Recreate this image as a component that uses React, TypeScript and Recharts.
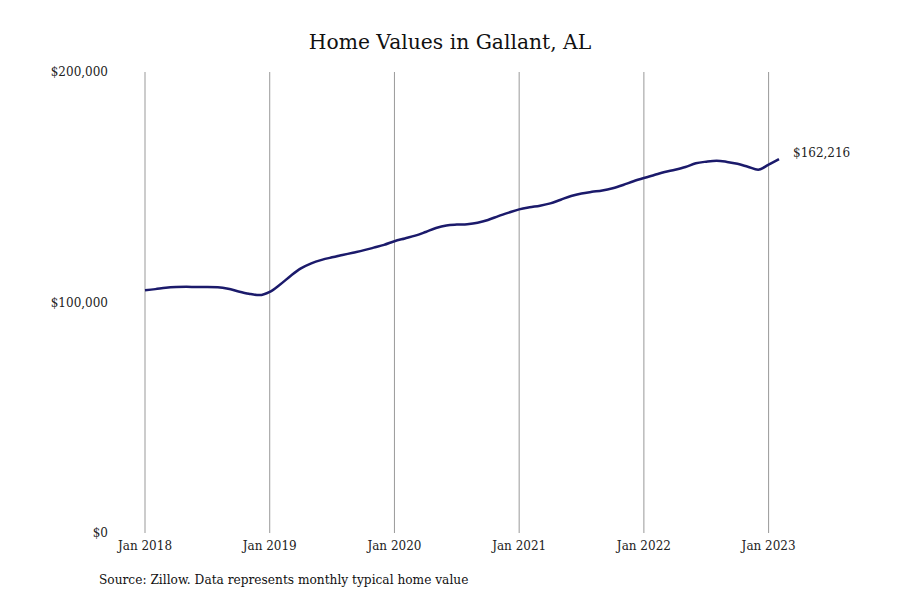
import React from 'react';
import { LineChart, Line, XAxis, YAxis, ReferenceLine } from 'recharts';

const months: string[] = [];
const startYear = 2018;
for (let i = 0; i < 62; i++) {
  const names = ['Jan','Feb','Mar','Apr','May','Jun','Jul','Aug','Sep','Oct','Nov','Dec'];
  months.push(`${names[i % 12]} ${startYear + Math.floor(i / 12)}`);
}

const homeValues: number[] = [
  105300, 105800, 106400, 106700, 106800, 106700, 106700, 106600, 106000, 104800, 103800, 103200,
  104600, 107800, 111500, 114800, 117000, 118500, 119600, 120600, 121600, 122600, 123800, 125000,
  126600, 127800, 129000, 130600, 132300, 133400, 133800, 134000, 134600, 135800, 137500, 139000,
  140400, 141300, 142000, 143000, 144600, 146200, 147300, 148000, 148600, 149600, 151000, 152600,
  154000, 155300, 156600, 157600, 158800, 160400, 161100, 161500, 161000, 160200, 158900, 157600,
  159800, 162216,
];

const xTickIndexes = [0, 12, 24, 36, 48, 60];
const xTickLabels = ['Jan 2018', 'Jan 2019', 'Jan 2020', 'Jan 2021', 'Jan 2022', 'Jan 2023'];
const yTicks = [0, 100000, 200000];
const yTickLabels = ['$0', '$100,000', '$200,000'];

const data = homeValues.map((v, i) => ({ idx: i, month: months[i], value: v }));

const FONT = '"DejaVu Serif", serif';
const lineColor = '#1b1a6b';

const EndLabel = (props: any) => {
  const { x, y, index, value } = props;
  if (index !== homeValues.length - 1) return null;
  return (
    <text x={x + 14} y={y - 6} dominantBaseline="central" fontFamily={FONT} fontSize={12} fill="#222">
      {'$' + Number(value).toLocaleString('en-US')}
    </text>
  );
};

export default function App() {
  return (
    <div style={{ position: 'absolute', left: 0, top: 0, width: 900, height: 600, background: '#fff' }}>
      <div
        style={{
          position: 'absolute',
          top: 29,
          left: 0,
          width: 900,
          textAlign: 'center',
          fontFamily: FONT,
          fontSize: 20.3,
          color: '#111',
          lineHeight: '26px',
        }}
      >
        Home Values in Gallant, AL
      </div>
      <LineChart
        width={900}
        height={600}
        data={data}
        margin={{ top: 72, right: 121, bottom: 0, left: 0 }}
      >
        <XAxis
          dataKey="idx"
          type="number"
          domain={[0, 61]}
          ticks={xTickIndexes}
          tickFormatter={(v: number) => xTickLabels[xTickIndexes.indexOf(v)]}
          axisLine={false}
          tickLine={false}
          height={67}
          tick={{ fontFamily: FONT, fontSize: 12, fill: '#222' }}
          interval={0}
        />
        <YAxis
          type="number"
          domain={[0, 200000]}
          ticks={yTicks}
          tickFormatter={(v: number) => yTickLabels[yTicks.indexOf(v)]}
          axisLine={false}
          tickLine={false}
          width={145}
          tickSize={0}
          tickMargin={37}
          tick={{ fontFamily: FONT, fontSize: 12, fill: '#222' }}
          interval={0}
        />
        {xTickIndexes.map((t) => (
          <ReferenceLine key={t} x={t} stroke="#999" strokeWidth={1} />
        ))}
        <Line
          type="monotone"
          dataKey="value"
          stroke={lineColor}
          strokeWidth={2.5}
          dot={false}
          isAnimationActive={false}
          label={<EndLabel />}
        />
      </LineChart>
      <div
        style={{
          position: 'absolute',
          top: 571,
          left: 99,
          fontFamily: FONT,
          fontSize: 12.2,
          color: '#111',
          lineHeight: '18px',
          whiteSpace: 'nowrap',
        }}
      >
        Source: Zillow. Data represents monthly typical home value
      </div>
    </div>
  );
}
